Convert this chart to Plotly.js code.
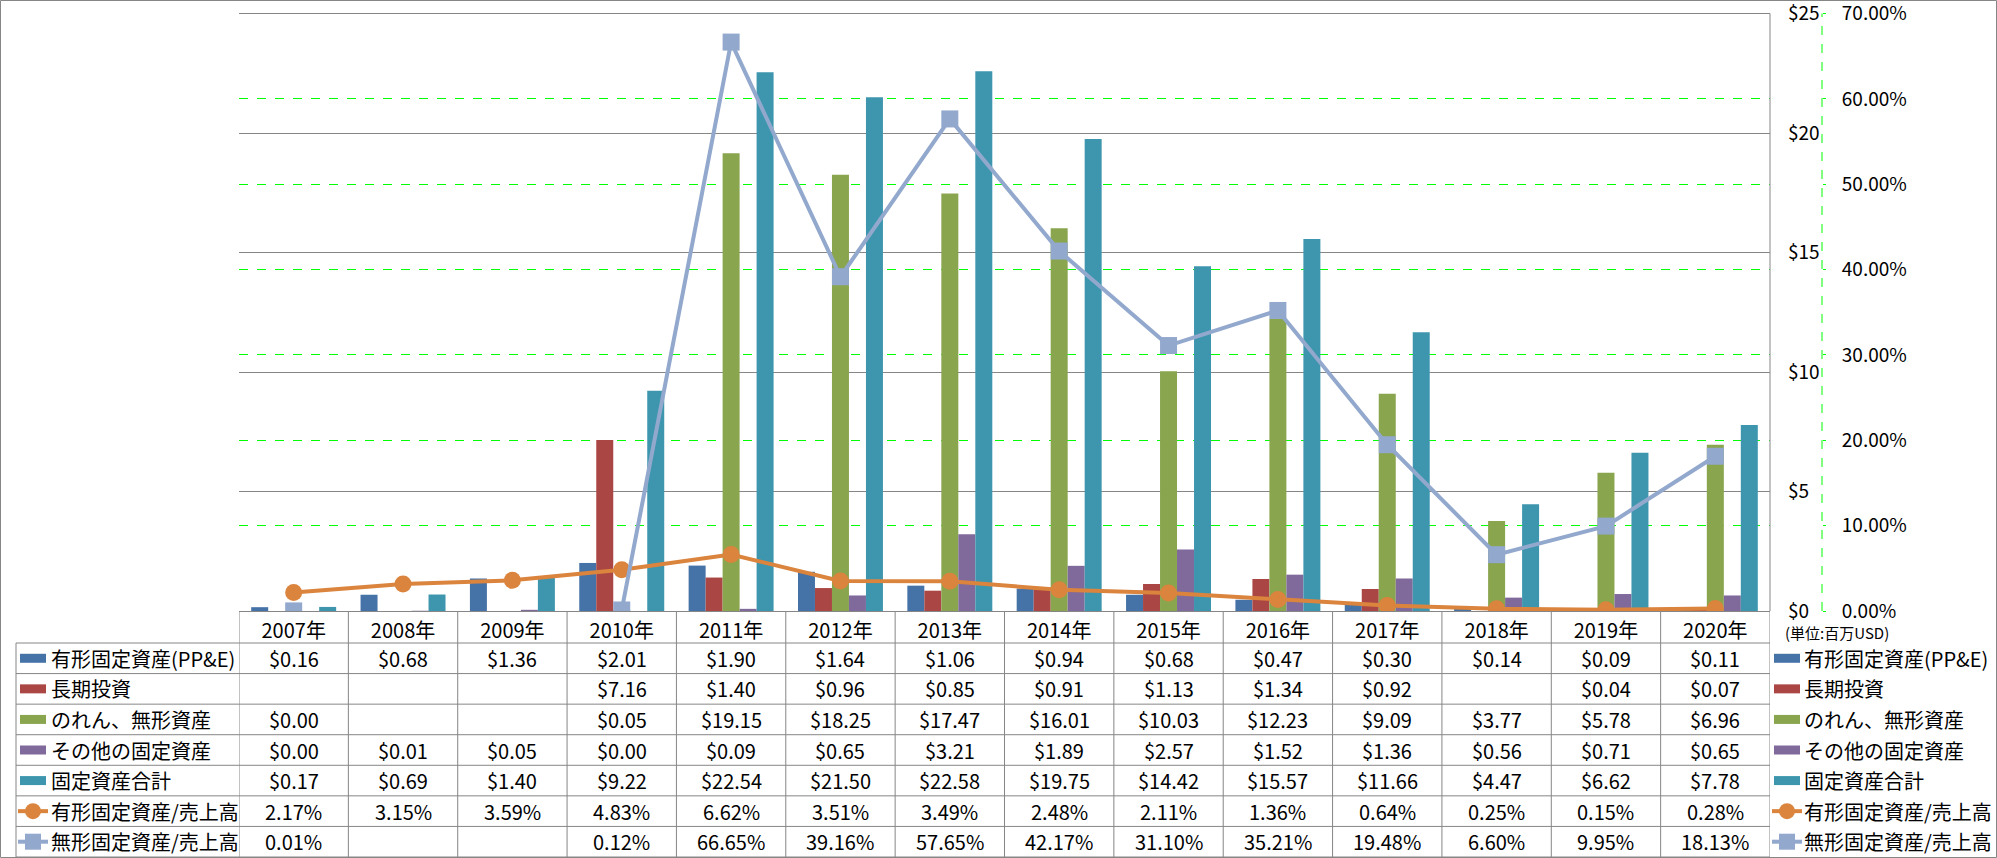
<!DOCTYPE html>
<html><head><meta charset="utf-8">
<script src="https://cdn.plot.ly/plotly-3.0.1.min.js"></script>
<style>html,body{margin:0;padding:0;background:#fff;}#chart{width:1997px;height:858px;}</style>
</head><body><div id="chart"></div>
<script>
// ---- data ----
const years = ['2007年','2008年','2009年','2010年','2011年','2012年','2013年','2014年','2015年','2016年','2017年','2018年','2019年','2020年'];
const ppe = [0.16,0.68,1.36,2.01,1.90,1.64,1.06,0.94,0.68,0.47,0.30,0.14,0.09,0.11];
const ltInvest = [null,null,null,7.16,1.40,0.96,0.85,0.91,1.13,1.34,0.92,null,0.04,0.07];
const goodwill = [0.00,null,null,0.05,19.15,18.25,17.47,16.01,10.03,12.23,9.09,3.77,5.78,6.96];
const otherFixed = [0.00,0.01,0.05,0.00,0.09,0.65,3.21,1.89,2.57,1.52,1.36,0.56,0.71,0.65];
const totalFixed = [0.17,0.69,1.40,9.22,22.54,21.50,22.58,19.75,14.42,15.57,11.66,4.47,6.62,7.78];
const ppeRatio = [2.17,3.15,3.59,4.83,6.62,3.51,3.49,2.48,2.11,1.36,0.64,0.25,0.15,0.28];
const intangRatio = [0.01,null,null,0.12,66.65,39.16,57.65,42.17,31.10,35.21,19.48,6.60,9.95,18.13];
const seriesNames = ['有形固定資産(PP&E)','長期投資','のれん、無形資産','その他の固定資産','固定資産合計','有形固定資産/売上高','無形固定資産/売上高'];
const unitNote = '(単位:百万USD)';

// ---- styles ----
const colors = ['#4572A7','#AA4643','#89A54E','#80699B','#3D96AE','#DB843D','#92A8CD'];
const NUMFONT = '"Liberation Sans Narrow", "Noto Sans CJK JP", sans-serif';
const JPFONT = '"Liberation Sans Narrow", "Noto Sans CJK JP", sans-serif';
const GRID = '#868686';

const W = 1997, H = 858, L = 239, R = 100, T = 10, B = 247;
const PW = W - L - R, PH = H - T - B;
// axis maxima (small headroom so the top tick is kept by Plotly; top tick lands at y = 13.5px)
const yMax = 25, y2Max = 70, head = PH / (PH - 3.5);
const px = X => (X - L) / PW;
const py = Y => (T + PH - Y) / PH;
const plotRight = 1770;
const rowTop = 643, rowH = (857 - 643) / 7;
const rowC = i => rowTop + rowH * (i + 0.5);

const barSeries = [ppe, ltInvest, goodwill, otherFixed, totalFixed];
const traces = barSeries.map((d, i) => ({
  type: 'bar', x: years, y: d, name: seriesNames[i],
  marker: {color: colors[i]}, yaxis: 'y', hoverinfo: 'x+y'
}));
traces.push({
  type: 'scatter', mode: 'lines+markers', x: years, y: ppeRatio, name: seriesNames[5], yaxis: 'y2',
  line: {color: colors[5], width: 4}, marker: {symbol: 'circle', size: 17, color: colors[5]}
});
traces.push({
  type: 'scatter', mode: 'lines+markers', x: years, y: intangRatio, name: seriesNames[6], yaxis: 'y2',
  connectgaps: false,
  line: {color: colors[6], width: 4}, marker: {symbol: 'square', size: 17, color: colors[6]}
});

const shapes = [];
const annotations = [];
// outer frame
shapes.push({type:'rect', xref:'paper', yref:'paper', x0:px(0.5), x1:px(W-0.5), y0:py(H-0.5), y1:py(0.5), line:{color:GRID, width:1}});
// table horizontal lines
for (let i = 0; i <= 7; i++) {
  const Y = rowTop + rowH * i;
  shapes.push({type:'line', xref:'paper', yref:'paper', x0:px(16), x1:px(plotRight), y0:py(Y), y1:py(Y), line:{color:GRID, width:1}});
}
// left border of table
shapes.push({type:'line', xref:'paper', yref:'paper', x0:px(16), x1:px(16), y0:py(rowTop), y1:py(857), line:{color:GRID, width:1}});
// vertical column lines
for (let i = 0; i <= years.length; i++) {
  shapes.push({type:'line', xref:'x', yref:'paper', x0:i-0.5, x1:i-0.5, y0:0, y1:py(857), line:{color:GRID, width:1}});
}
// primary axis line only up to the top tick, and solid top gridline over the coinciding dashed one
shapes.push({type:'line', xref:'paper', yref:'y', x0:px(plotRight), x1:px(plotRight), y0:0, y1:yMax, line:{color:GRID, width:1}});
shapes.push({type:'line', xref:'x', yref:'y', x0:-0.5, x1:years.length-0.5, y0:yMax, y1:yMax, line:{color:GRID, width:1}});
// secondary axis dashed line
shapes.push({type:'line', xref:'paper', yref:'y2', x0:px(1822), x1:px(1822), y0:0, y1:y2Max, line:{color:'#00FF00', width:1, dash:'dash'}});

// legend keys + labels, left and right
function addKey(i, x0, x1) {
  const Yc = rowC(i);
  if (i < 5) {
    shapes.push({type:'rect', xref:'paper', yref:'paper', x0:px(x0), x1:px(x1), y0:py(Yc+4.5), y1:py(Yc-4.5), line:{width:0}, fillcolor:colors[i]});
  } else {
    shapes.push({type:'line', xref:'paper', yref:'paper', x0:px(x0-2), x1:px(x1+2), y0:py(Yc), y1:py(Yc), line:{color:colors[i], width:4}});
    const cx = (x0 + x1) / 2, r = 8;
    shapes.push({type: i === 5 ? 'circle' : 'rect', xref:'paper', yref:'paper', x0:px(cx-r), x1:px(cx+r), y0:py(Yc+r), y1:py(Yc-r), line:{width:0}, fillcolor:colors[i]});
  }
}
for (let i = 0; i < 7; i++) {
  addKey(i, 20, 46);
  addKey(i, 1774, 1800);
  annotations.push({xref:'paper', yref:'paper', x:px(49), y:py(rowC(i)), xanchor:'left', yanchor:'middle', showarrow:false, text:seriesNames[i], font:{family:JPFONT, size:20, color:'#000'}});
  annotations.push({xref:'paper', yref:'paper', x:px(1802), y:py(rowC(i)), xanchor:'left', yanchor:'middle', showarrow:false, text:seriesNames[i], font:{family:JPFONT, size:20, color:'#000'}});
}
// cell values
const allSeries = [ppe, ltInvest, goodwill, otherFixed, totalFixed, ppeRatio, intangRatio];
allSeries.forEach((d, i) => {
  d.forEach((v, j) => {
    if (v === null) return;
    const t = i < 5 ? '$' + v.toFixed(2) : v.toFixed(2) + '%';
    annotations.push({xref:'x', yref:'paper', x:years[j], y:py(rowC(i)), xanchor:'center', yanchor:'middle', showarrow:false, text:t, font:{family:NUMFONT, size:20, color:'#000'}});
  });
});
annotations.push({xref:'paper', yref:'paper', x:px(1783), y:py(632), xanchor:'left', yanchor:'middle', showarrow:false, text:unitNote, font:{family:'"Noto Sans CJK JP", sans-serif', size:15, color:'#000'}});

const layout = {
  width: W, height: H,
  margin: {l:L, r:R, t:T, b:B, pad:0, autoexpand:false},
  paper_bgcolor:'#fff', plot_bgcolor:'#fff',
  showlegend:false, barmode:'group', bargap:0.223, bargroupgap:0,
  font: {family: NUMFONT, size: 20, color:'#000'},
  xaxis: {type:'category', range:[-0.5, years.length - 0.5], autorange:false, domain:[0, px(plotRight)], showline:true, linecolor:GRID, linewidth:1, ticks:'', showgrid:false, zeroline:false,
          automargin:false, tickfont:{family:JPFONT, size:20, color:'#000'}, ticklabelstandoff:2, fixedrange:true},
  yaxis: {range:[0, yMax*head], autorange:false, tick0:0, dtick:5, side:'right', anchor:'x', showline:false, showgrid:true, gridcolor:GRID, gridwidth:1,
          automargin:false, zeroline:false, tickprefix:'$', tickformat:'d', ticks:'', ticklabelstandoff:17, ticklabeloverflow:'allow',
          tickfont:{family:NUMFONT, size:19, color:'#000'}, fixedrange:true},
  yaxis2: {range:[0, y2Max*head], autorange:false, tick0:0, dtick:10, overlaying:'y', side:'right', anchor:'free', position:px(1822), showline:false,
           automargin:false, showgrid:true, gridcolor:'#00FF00', griddash:'dash', gridwidth:1, zeroline:false,
           ticks:'outside', ticklen:3, tickcolor:'#00FF00', ticksuffix:'%', tickformat:'.2f', ticklabelstandoff:12, ticklabeloverflow:'allow',
           tickfont:{family:NUMFONT, size:19, color:'#000'}, fixedrange:true},
  shapes, annotations
};
Plotly.newPlot('chart', traces, layout, {displayModeBar:false, staticPlot:true});
</script></body></html>
